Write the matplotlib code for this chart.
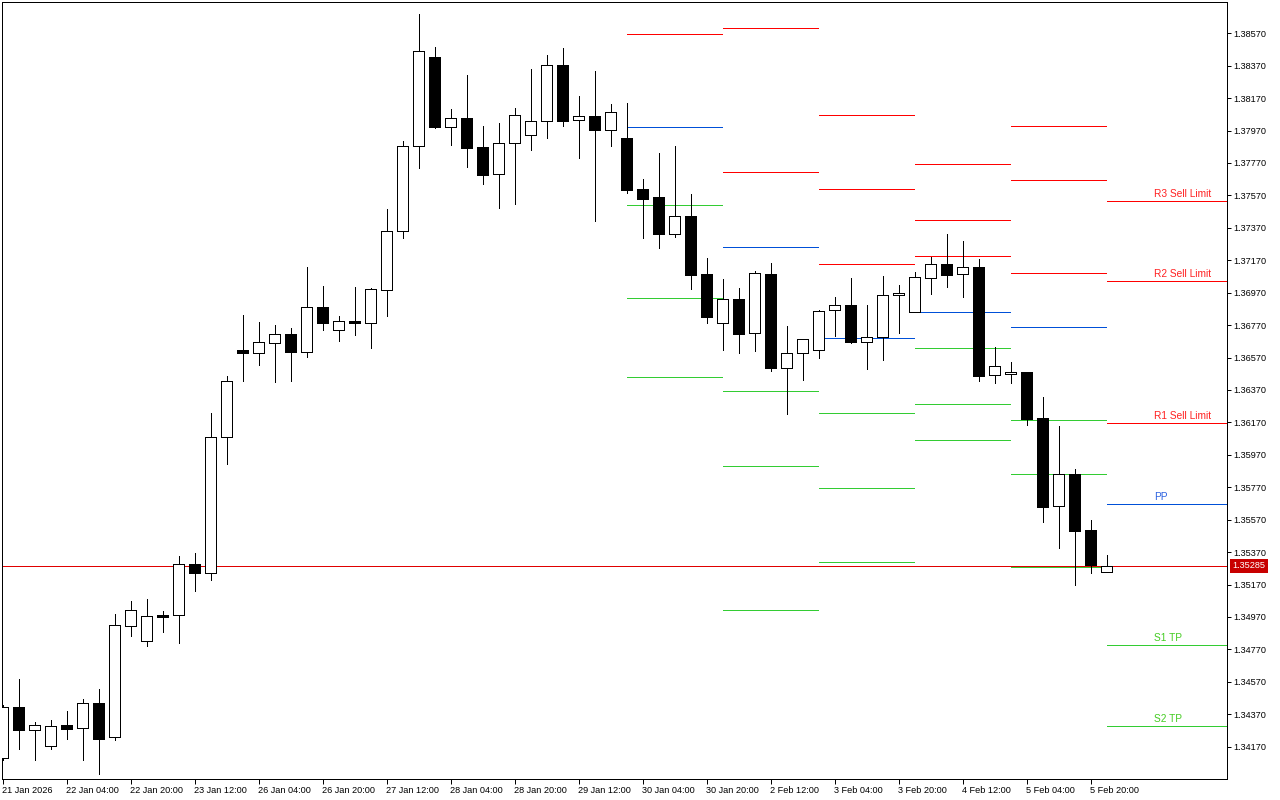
import matplotlib
matplotlib.use("Agg")
import matplotlib.pyplot as plt
import numpy as np

# ---------------- data ----------------
opens = [1.34100, 1.34415, 1.34271, 1.34172, 1.34304, 1.34283, 1.34439, 1.34228, 1.34912, 1.34820,
         1.34982, 1.34980, 1.35297, 1.35243, 1.36078, 1.36617, 1.36600, 1.36662, 1.36713, 1.36606,
         1.36880, 1.36738, 1.36796, 1.36781, 1.36985, 1.37349, 1.37873, 1.38422, 1.37994, 1.38046,
         1.37869, 1.37700, 1.37892, 1.37941, 1.38027, 1.38373, 1.38033, 1.38058, 1.37972, 1.37922,
         1.37608, 1.37558, 1.37334, 1.37441, 1.37083, 1.36781, 1.36929, 1.36720, 1.37083, 1.36507,
         1.36596, 1.36615, 1.36862, 1.36892, 1.36664, 1.36699, 1.36954, 1.36849, 1.37059, 1.37145,
         1.37083, 1.37127, 1.36461, 1.36467, 1.36481, 1.36197, 1.35653, 1.35850, 1.35506, 1.35245]
highs = [1.34427, 1.34587, 1.34320, 1.34333, 1.34390, 1.34464, 1.34526, 1.34988, 1.35068, 1.35081,
         1.35007, 1.35346, 1.35363, 1.36228, 1.36456, 1.36832, 1.36789, 1.36771, 1.36750, 1.37129,
         1.37011, 1.36826, 1.37005, 1.36997, 1.37486, 1.37906, 1.38689, 1.38486, 1.38103, 1.38313,
         1.37998, 1.38017, 1.38109, 1.38350, 1.38436, 1.38479, 1.38183, 1.38338, 1.38134, 1.38140,
         1.37671, 1.37832, 1.37875, 1.37579, 1.37184, 1.37055, 1.36999, 1.37102, 1.37151, 1.36765,
         1.36685, 1.36863, 1.36944, 1.37061, 1.36894, 1.37073, 1.37018, 1.37100, 1.37192, 1.37332,
         1.37289, 1.37176, 1.36635, 1.36543, 1.36481, 1.36327, 1.36148, 1.35883, 1.35568, 1.35352]
lows = [1.34088, 1.34157, 1.34088, 1.34157, 1.34219, 1.34088, 1.34003, 1.34211, 1.34853, 1.34791,
        1.34879, 1.34811, 1.35132, 1.35200, 1.35913, 1.36427, 1.36524, 1.36419, 1.36427, 1.36575,
        1.36740, 1.36674, 1.36711, 1.36631, 1.36828, 1.37309, 1.37741, 1.37988, 1.37883, 1.37747,
        1.37642, 1.37494, 1.37519, 1.37852, 1.37926, 1.38000, 1.37803, 1.37414, 1.37877, 1.37583,
        1.37309, 1.37248, 1.37315, 1.36995, 1.36785, 1.36618, 1.36600, 1.36612, 1.36489, 1.36224,
        1.36433, 1.36569, 1.36705, 1.36660, 1.36501, 1.36557, 1.36723, 1.36849, 1.36964, 1.37007,
        1.36945, 1.36427, 1.36415, 1.36415, 1.36156, 1.35556, 1.35395, 1.35167, 1.35243, 1.35245]
closes = [1.34415, 1.34275, 1.34304, 1.34296, 1.34281, 1.34437, 1.34219, 1.34919, 1.35011, 1.34974,
          1.34970, 1.35295, 1.35243, 1.36080, 1.36425, 1.36600, 1.36664, 1.36713, 1.36606, 1.36880,
          1.36781, 1.36794, 1.36781, 1.36991, 1.37349, 1.37873, 1.38459, 1.37994, 1.38046, 1.37864,
          1.37698, 1.37892, 1.38064, 1.38027, 1.38373, 1.38031, 1.38058, 1.37975, 1.38083, 1.37605,
          1.37550, 1.37334, 1.37441, 1.37081, 1.36822, 1.36929, 1.36717, 1.37090, 1.36507, 1.36596,
          1.36683, 1.36855, 1.36892, 1.36664, 1.36695, 1.36954, 1.36970, 1.37065, 1.37145, 1.37081,
          1.37127, 1.36458, 1.36516, 1.36479, 1.36191, 1.35650, 1.35850, 1.35500, 1.35291, 1.35285]

current_price = 1.35285

# daily pivot levels (one value per day; nan = outside the visible range)
pivot_start = [39, 45, 51, 57, 63, 69]          # candle index where each day begins
pivot_end = [45, 51, 57, 63, 69, None]          # None = runs to the right edge
nan = np.nan
R3 = [nan, nan, 1.38064, 1.37762, 1.37996, 1.37534]
R2 = [nan, 1.38601, 1.37608, 1.37417, 1.37663, 1.37040]
R1 = [1.38566, 1.37713, 1.37145, 1.37195, 1.37090, 1.36164]
PP = [1.37990, 1.37250, 1.36689, 1.36849, 1.36757, 1.35667]
S1 = [1.37509, 1.36362, 1.36226, 1.36627, 1.36183, 1.34797]
S2 = [1.36936, 1.35899, 1.35764, 1.36282, 1.35850, 1.34296]
S3 = [1.36448, 1.35011, 1.35307, 1.36060, 1.35276, nan]

current_labels = {"R3": "R3 Sell Limit", "R2": "R2 Sell Limit", "R1": "R1 Sell Limit",
                  "PP": "PP", "S1": "S1 TP", "S2": "S2 TP"}

xtick_labels = ["21 Jan 2026", "22 Jan 04:00", "22 Jan 20:00", "23 Jan 12:00", "26 Jan 04:00",
                "26 Jan 20:00", "27 Jan 12:00", "28 Jan 04:00", "28 Jan 20:00", "29 Jan 12:00",
                "30 Jan 04:00", "30 Jan 20:00", "2 Feb 12:00", "3 Feb 04:00", "3 Feb 20:00",
                "4 Feb 12:00", "5 Feb 04:00", "5 Feb 20:00"]
ytick_values = [1.34170, 1.34370, 1.34570, 1.34770, 1.34970, 1.35170, 1.35370, 1.35570,
                1.35770, 1.35970, 1.36170, 1.36370, 1.36570, 1.36770, 1.36970, 1.37170,
                1.37370, 1.37570, 1.37770, 1.37970, 1.38170, 1.38370, 1.38570]

# ---------------- style ----------------
PX = 0.72  # one pixel in points at dpi 100
plt.rcParams["font.family"] = ["Liberation Sans", "DejaVu Sans"]
RED = "#ff0000"
BLUE = "#0050d8"
GREEN = "#33cc33"
level_colors = {"R3": RED, "R2": RED, "R1": RED, "PP": BLUE, "S1": GREEN, "S2": GREEN, "S3": GREEN}
label_colors = {"R3": "#ff2020", "R2": "#ff2020", "R1": "#ff2020", "PP": "#2d62e0",
                "S1": "#44cc22", "S2": "#44cc22"}

fig = plt.figure(figsize=(12.8, 8), dpi=100)
fig.patch.set_facecolor("white")
L, R, T, B = 2.3, 1227.3, 2.3, 779.3
ax = fig.add_axes([L / 1280, (800 - B) / 800, (R - L) / 1280, (B - T) / 800])
ax.set_facecolor("white")

o = np.array(opens); h = np.array(highs); lo = np.array(lows); c = np.array(closes)
x = np.arange(len(o))
up = c >= o

XMIN, XMAX = -0.0125, 76.55
ax.set_xlim(XMIN, XMAX)
ax.set_ylim(1.33969, 1.38761)

# current price line
ax.axhline(current_price, color="#e00000", lw=PX, zorder=1.5, antialiased=False)

# pivot segments
levels = {"R3": R3, "R2": R2, "R1": R1, "PP": PP, "S1": S1, "S2": S2, "S3": S3}
for i, s in enumerate(pivot_start):
    e = pivot_end[i] if pivot_end[i] is not None else XMAX
    for name, vals in levels.items():
        v = vals[i]
        if np.isnan(v):
            continue
        ax.hlines(v, s, e - 0.06, color=level_colors[name], lw=PX, zorder=1.6, antialiased=False)
        if pivot_end[i] is None and name in current_labels:
            ax.annotate(current_labels[name], xy=(72, v), xytext=(0, 2),
                        textcoords="offset pixels", ha="left", va="bottom",
                        fontsize=7.3, color=label_colors[name], zorder=5)

# candles
ax.vlines(x, lo, h, color="black", lw=PX, zorder=2, antialiased=False)
body_bottom = np.minimum(o, c)
body_height = np.maximum(np.abs(c - o), 0.00003)
ax.bar(x, body_height, bottom=body_bottom, width=0.64,
       color=np.where(up, "white", "black"), edgecolor="black", linewidth=PX,
       zorder=3, antialiased=False)

# axes styling
for sp in ax.spines.values():
    sp.set_linewidth(PX)
    sp.set_color("black")

ax.set_xticks(np.arange(0, 4 * len(xtick_labels), 4))
ax.set_xticklabels(xtick_labels, ha="left")
ax.tick_params(axis="x", direction="out", length=3.6, width=PX, pad=1.5, labelsize=6.6)

ax.yaxis.tick_right()
ax.set_yticks(ytick_values)
ax.set_yticklabels([f"{v:.5f}" for v in ytick_values])
ax.tick_params(axis="y", direction="out", length=2.9, width=PX, pad=1.5, labelsize=6.6)

# current price tag
ax.annotate(f"{current_price:.5f}", xy=(1, current_price), xycoords=("axes fraction", "data"),
            xytext=(5, 0), textcoords="offset pixels", ha="left", va="center",
            fontsize=6.6, color="white", annotation_clip=False,
            bbox=dict(boxstyle="square,pad=0.3", fc="#c80000", ec="none"))

fig.savefig("out.png", dpi=100)
